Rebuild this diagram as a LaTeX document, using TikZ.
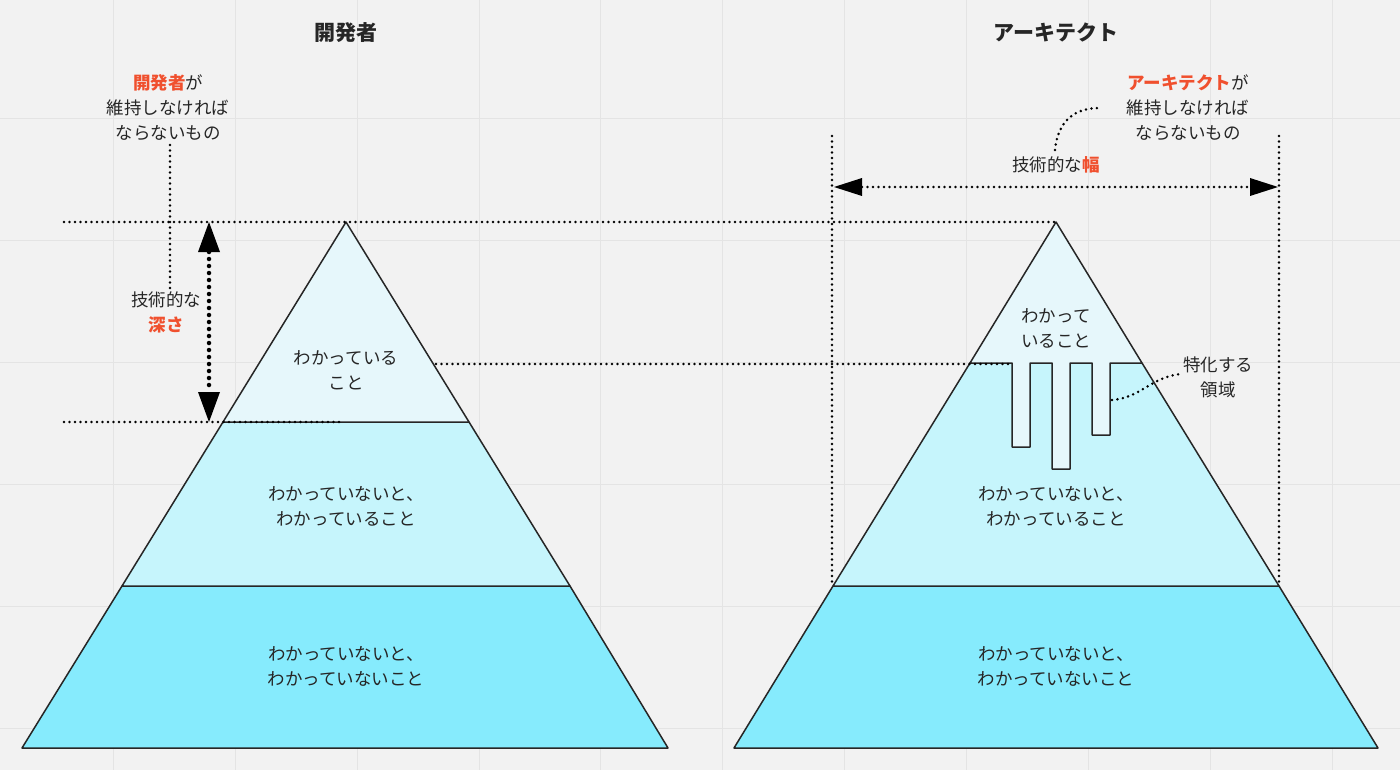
\documentclass[tikz,border=0pt]{standalone}
\usepackage{fontspec}
\setmainfont{Noto Sans CJK JP}
\usetikzlibrary{arrows.meta}
\definecolor{bg}{HTML}{F2F2F2}
\definecolor{gridc}{HTML}{E4E4E4}
\definecolor{topc}{HTML}{E6F7FB}
\definecolor{midc}{HTML}{C6F5FC}
\definecolor{botc}{HTML}{86EBFD}
\definecolor{hl}{HTML}{F0502E}
\tikzset{
  lay/.style={draw=black!85, line width=1.5pt, line join=round},
  dots/.style={line width=2.8pt, dash pattern=on 0pt off 5.5pt, line cap=round},
  bigdots/.style={line width=4.5pt, dash pattern=on 0pt off 7pt, line cap=round},
  txt/.style={font=\fontsize{17.5}{25}\selectfont, align=center, text=black!85},
  head/.style={font=\fontsize{21}{25}\selectfont\bfseries, text=black!85},
}
\begin{document}
\begin{tikzpicture}[x=1pt,y=-1pt]
\fill[bg] (0,0) rectangle (1400,770);
\useasboundingbox (0,0) rectangle (1400,770);
\foreach \x in {113,235,357,479,600,722,844,966,1088,1210,1332} \draw[gridc] (\x,0) -- (\x,770);
\foreach \y in {118,240,362,484,606,728} \draw[gridc] (0,\y) -- (1400,\y);
% left pyramid
\filldraw[lay, fill=botc] (122,586) -- (570,586) -- (668,748) -- (22,748) -- cycle;
\filldraw[lay, fill=midc] (223,422) -- (469,422) -- (570,586) -- (122,586) -- cycle;
\filldraw[lay, fill=topc] (346,222) -- (469,422) -- (223,422) -- cycle;
% right pyramid
\filldraw[lay, fill=botc] (833,586) -- (1279,586) -- (1378,748) -- (734,748) -- cycle;
\filldraw[lay, fill=midc] (970,363) -- (1142,363) -- (1279,586) -- (833,586) -- cycle;
\filldraw[lay, fill=topc] (1056,222) -- (1142,363) -- (1110,363) -- (1110,435) -- (1092,435) -- (1092,363)
  -- (1070,363) -- (1070,469) -- (1052,469) -- (1052,363) -- (1030,363) -- (1030,447) -- (1012,447) -- (1012,363) -- (970,363) -- cycle;
% nodes
\node[head] (h1) at (346,33) {開発者};
\node[head] (h2) at (1056,33) {アーキテクト};
\node[txt] (l1) at (346,370) {わかっている\\こと};
\node[txt] (l2) at (346,506) {わかっていないと、\\わかっていること};
\node[txt] (l3) at (346,666) {わかっていないと、\\わかっていないこと};
\node[txt] (r1) at (1056,328) {わかって\\いること};
\node[txt] (r2) at (1056,506) {わかっていないと、\\わかっていること};
\node[txt] (r3) at (1056,666) {わかっていないと、\\わかっていないこと};
\node[txt] (lm) at (168,108) {\textcolor{hl}{\bfseries 開発者}が\\維持しなければ\\ならないもの};
\node[txt] (rm) at (1188,108) {\textcolor{hl}{\bfseries アーキテクト}が\\維持しなければ\\ならないもの};
\node[txt] (dep) at (166,312) {技術的な\\\textcolor{hl}{\bfseries 深さ}};
\node[txt] (wid) at (1056,165) {技術的な\textcolor{hl}{\bfseries 幅}};
\node[txt] (sp) at (1218,377) {特化する\\領域};
% dotted guides
\coordinate (a1) at (64,222); \coordinate (a2) at (1056,222);
\coordinate (b1) at (64,422); \coordinate (b2) at (340,422);
\coordinate (c1) at (436,364); \coordinate (c2) at (1012,364);
\coordinate (v1t) at (832,136); \coordinate (v1b) at (832,586);
\coordinate (v2t) at (1279,136); \coordinate (v2b) at (1279,586);
\draw[dots] (a1) -- (a2);
\draw[dots] (b1) -- (b2);
\draw[dots] (c1) -- (c2);
\draw[dots] (v1t) -- (v1b);
\draw[dots] (v2t) -- (v2b);
\draw[dots] (170,145) -- (170,290);
\draw[dots] (1055,150) .. controls (1058,120) and (1075,108) .. (1100,108);
\draw[dots] (1112,400) .. controls (1140,398) and (1150,378) .. (1180,374);
% arrows
\draw[bigdots] (209,252) -- (209,392);
\fill (209,222) -- (198,252) -- (220,252) -- cycle;
\fill (209,422) -- (198,392) -- (220,392) -- cycle;
\draw[dots] (862,187) -- (1250,187);
\fill (834,187) -- (862,178) -- (862,196) -- cycle;
\fill (1278,187) -- (1250,178) -- (1250,196) -- cycle;
\end{tikzpicture}
\end{document}
